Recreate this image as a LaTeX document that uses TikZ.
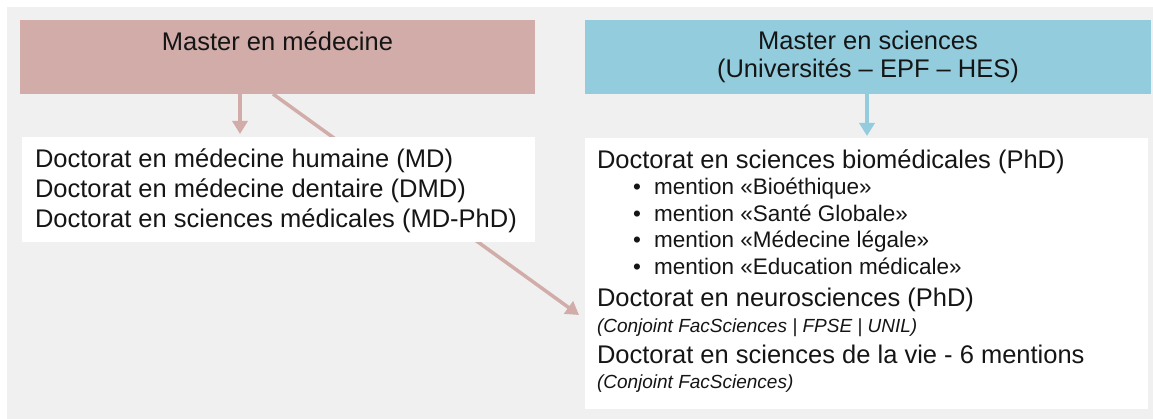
\documentclass[tikz,border=0pt]{standalone}
\usepackage{fontspec}
\setmainfont{Liberation Sans}
\usetikzlibrary{arrows.meta}
\definecolor{bgc}{HTML}{F0F0F0}
\definecolor{pinkc}{HTML}{D1ACA9}
\definecolor{bluec}{HTML}{92CCDD}
\definecolor{txtc}{HTML}{151515}
\newcommand\fmain{\fontsize{25.5}{30}\selectfont}
\newcommand\fbul{\fontsize{22.5}{27}\selectfont}
\newcommand\fital{\fontsize{19}{22}\selectfont\itshape}
\pgfdeclarelayer{bg}
\pgfsetlayers{bg,main}
\tikzset{
  boxnode/.style={inner sep=0pt, outer sep=0pt, anchor=north west, draw=none},
  txt/.style={inner sep=0pt, outer sep=0pt, anchor=base west, text=txtc},
  head/.style={inner sep=0pt, outer sep=0pt, anchor=base, text=txtc, font=\fmain},
  pinkarr/.style={draw=pinkc, line width=3.5pt, -{Triangle[length=13pt,width=15pt]}},
  bluearr/.style={draw=bluec, line width=3.5pt, -{Triangle[length=13pt,width=15pt]}},
}
\begin{document}
\begin{tikzpicture}[x=1pt,y=-1pt]
\useasboundingbox (0,0) rectangle (1153,419);
% boxes
\node[boxnode, fill=pinkc, minimum width=515pt, minimum height=74pt] (mm) at (20,20) {};
\node[boxnode, fill=bluec, minimum width=566pt, minimum height=74pt] (ms) at (585,20) {};
\node[boxnode, fill=white, minimum width=513pt, minimum height=105pt] (lw) at (22,137) {};
\node[boxnode, fill=white, minimum width=563pt, minimum height=271pt] (rw) at (585,138) {};
% header texts
\node[head] (t1) at (277.5,51) {Master en médecine};
\node[head] (t2) at (868,50) {Master en sciences};
\node[head] (t3) at (868,78) {(Universités – EPF – HES)};
% left box texts
\node[txt, font=\fmain] (l1) at (35,168) {Doctorat en médecine humaine (MD)};
\node[txt, font=\fmain] (l2) at (35,198) {Doctorat en médecine dentaire (DMD)};
\node[txt, font=\fmain] (l3) at (35,228) {Doctorat en sciences médicales (MD-PhD)};
% right box texts
\node[txt, font=\fmain] (r1) at (597,169) {Doctorat en sciences biomédicales (PhD)};
\node[txt, font=\fbul] (b1d) at (633,195) {•};
\node[txt, font=\fbul] (b1) at (654,195) {mention «Bioéthique»};
\node[txt, font=\fbul] (b2d) at (633,222) {•};
\node[txt, font=\fbul] (b2) at (654,222) {mention «Santé Globale»};
\node[txt, font=\fbul] (b3d) at (633,248) {•};
\node[txt, font=\fbul] (b3) at (654,248) {mention «Médecine légale»};
\node[txt, font=\fbul] (b4d) at (633,275) {•};
\node[txt, font=\fbul] (b4) at (654,275) {mention «Education médicale»};
\node[txt, font=\fmain] (r2) at (597,307) {Doctorat en neurosciences (PhD)};
\node[txt, font=\fital] (r3) at (597,332) {(Conjoint FacSciences | FPSE | UNIL)};
\node[txt, font=\fmain] (r4) at (597,363) {Doctorat en sciences de la vie - 6 mentions};
\node[txt, font=\fital] (r5) at (597,388) {(Conjoint FacSciences)};
% connectors
\coordinate (ax) at (240,0);
\coordinate (d1) at (273,94);
\coordinate (d2) at (579,315);
\draw[pinkarr, shorten >=3pt] (mm.south -| ax) -- (lw.north -| ax);
\draw[bluearr, shorten >=2pt] (ms.south -| 867,0) -- (rw.north -| 867,0);
\begin{pgfonlayer}{bg}
\fill[bgc] (7,7) rectangle (1153,419);
\draw[pinkarr] (d1) -- (d2);
\end{pgfonlayer}
\end{tikzpicture}
\end{document}
